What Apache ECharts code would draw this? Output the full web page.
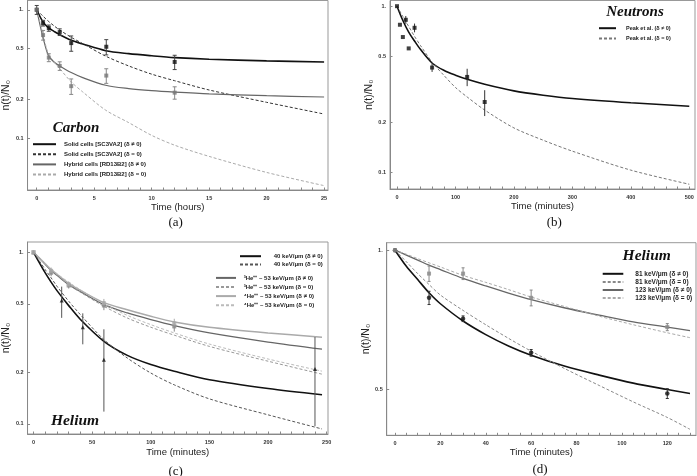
<!DOCTYPE html>
<html><head><meta charset="utf-8">
<script src="https://cdn.jsdelivr.net/npm/echarts@6/dist/echarts.min.js"></script>
<style>html,body{margin:0;padding:0;background:#fff}#c{width:697px;height:476px}</style>
</head><body><div id="c"></div><script>
// ---------- Panel (a) Carbon ----------
const aCurveTime = [0,0.5,1,1.5,2,3,4,6,8,10,12,15,20,25];
const aSolidFit  = [1,0.816,0.725,0.679,0.639,0.578,0.541,0.48,0.455,0.438,0.424,0.412,0.4,0.392];
const aSolidExp  = [1,0.9,0.816,0.75,0.695,0.61,0.545,0.435,0.365,0.315,0.28,0.237,0.19,0.154];
const aHybridFit = [1,0.632,0.442,0.392,0.365,0.324,0.296,0.258,0.243,0.234,0.228,0.221,0.214,0.209];
const aHybridExp = [1,0.67,0.455,0.395,0.348,0.274,0.229,0.165,0.132,0.105,0.088,0.072,0.054,0.0426];
const aDataTime  = [0,0.55,1.05,2,3,6.05,12];
const aSolidData = [1,0.787,0.72,0.67,0.55,0.515,0.392];
const aSolidErr  = [0.08,0.04,0.04,0.04,0.075,0.07,0.05];
const aHybridData= [1,0.635,0.424,0.365,0.254,0.307,0.226];
const aHybridErr = [0,0.055,0.03,0.028,0.035,0.04,0.025];
const aXLabels = [0,5,10,15,20,25];
const aYLabels = [0.1,0.2,0.5,1];
const aNames = ['Solid cells [SC3VA2] (δ ≠ 0)','Solid cells [SC3VA2] (δ = 0)','Hybrid cells [RD13B2] (δ ≠ 0)','Hybrid cells [RD13B2] (δ = 0)'];

// ---------- Panel (b) Neutrons ----------
const bCurveTime = [0,10,20,30,40,60,80,100,120,150,200,250,300,400,500];
const bFit = [1,0.82,0.698,0.617,0.55,0.455,0.411,0.384,0.363,0.339,0.309,0.291,0.278,0.262,0.25];
const bExp = [1,0.867,0.755,0.658,0.581,0.461,0.384,0.324,0.284,0.237,0.185,0.156,0.134,0.103,0.0847];
const bDataTime = [0,5,10,15,20,30,60,120,150];
const bData = [1,0.773,0.652,0.828,0.557,0.741,0.427,0.375,0.265];
const bErr  = [0,0,0,0.045,0,0.045,0.025,0.045,0.047];
const bXLabels = [0,100,200,300,400,500];
const bYLabels = [0.1,0.2,0.5,1];
const bNames = ['Peak et al. (δ ≠ 0)','Peak et al. (δ = 0)'];

// ---------- Panel (c) Helium ----------
const cCurveTime = [0,10,15,20,30,40,60,80,100,120,150,200,246];
const c40Fit  = [1,0.758,0.67,0.598,0.489,0.406,0.303,0.251,0.222,0.203,0.181,0.161,0.148];
const c40Exp  = [1,0.792,0.71,0.634,0.519,0.433,0.31,0.242,0.198,0.169,0.14,0.113,0.0935];
const c3HeFit = [1,0.85,0.782,0.735,0.648,0.59,0.496,0.443,0.405,0.374,0.339,0.3,0.273];
const c3HeExp = [1,0.855,0.789,0.74,0.648,0.585,0.485,0.414,0.366,0.329,0.283,0.232,0.195];
const c4HeFit = [1,0.857,0.793,0.745,0.66,0.6,0.509,0.463,0.424,0.393,0.366,0.339,0.32];
const c4HeExp = [1,0.862,0.8,0.75,0.669,0.605,0.5,0.429,0.379,0.339,0.292,0.239,0.203];
const c40Time = [0,24,42,60,240];
const c40Data = [1,0.523,0.366,0.237,0.209];
const c40Err  = [0,0.108,0.075,0.119,0.112];
const cHeTime = [0,15,30,60,120];
const c3HeData = [1,0.76,0.64,0.49,0.37];
const c4HeData = [1,0.78,0.65,0.505,0.385];
const cHeErr = [0,0.035,0.025,0.03,0.025];
const cXLabels = [0,50,100,150,200,250];
const cYLabels = [0.1,0.2,0.5,1];
const cNames = ['40 keV/μm (δ ≠ 0)','40 keV/μm (δ = 0)','³He⁺⁺ – 53 keV/μm (δ ≠ 0)','³He⁺⁺ – 53 keV/μm (δ = 0)','⁴He⁺⁺ – 53 keV/μm (δ ≠ 0)','⁴He⁺⁺ – 53 keV/μm (δ = 0)'];

// ---------- Panel (d) Helium ----------
const dCurveTime = [0,5,10,15,20,30,40,50,60,75,90,105,120,130];
const d81Fit  = [1,0.923,0.864,0.809,0.766,0.703,0.657,0.621,0.593,0.561,0.537,0.516,0.5,0.49];
const d81Exp  = [1,0.944,0.89,0.843,0.8,0.741,0.69,0.645,0.605,0.554,0.51,0.47,0.435,0.41];
const d123Fit = [1,0.976,0.952,0.928,0.908,0.869,0.837,0.808,0.782,0.75,0.724,0.7,0.682,0.67];
const d123Exp = [1,0.98,0.959,0.939,0.92,0.882,0.852,0.822,0.792,0.755,0.72,0.69,0.663,0.647];
const dDataTime = [0,15,30,60,120];
const d81Data = [1,0.789,0.711,0.6,0.49];
const d81Err  = [0,0.026,0.01,0.01,0.012];
const d123Data = [1,0.89,0.89,0.789,0.682];
const d123Err  = [0,0.034,0.026,0.031,0.012];
const dXLabels = [0,20,40,60,80,100,120];
const dYLabels = [0.5,1];
const dNames = ['81 keV/μm (δ ≠ 0)','81 keV/μm (δ = 0)','123 keV/μm (δ ≠ 0)','123 keV/μm (δ = 0)'];

// ---------- helpers ----------
const SANS = 'Liberation Sans';
const SERIF = 'Liberation Serif';
function pairs(xs, ys){ return xs.map((x,i)=>[x, ys[i]]); }
function errData(xs, ys, es){ return xs.map((x,i)=>[x, ys[i], ys[i]-es[i], ys[i]+es[i]]); }
function tickList(min, max, step){ const t=[]; for(let v=Math.ceil(min/step)*step; v<=max+1e-9; v+=step) t.push(+v.toFixed(6)); return t; }

function xAxis(gi, min, max, labels, minor, gap){
  return {type:'value', gridIndex:gi, min, max, name:'Time ('+(gi===0?'hours':'minutes')+')',
    nameLocation:'middle', nameGap:gap,
    nameTextStyle:{fontFamily:SANS, fontSize:9.5, color:'#222'},
    axisLine:{show:true, onZero:false, lineStyle:{color:'#888', width:1}},
    axisTick:{show:true, inside:true, length:2.5, customValues:tickList(min,max,minor), lineStyle:{color:'#888'}},
    axisLabel:{customValues:labels, fontFamily:SANS, fontSize:5.5, fontWeight:'bold', color:'#333', margin:5},
    splitLine:{show:false}};
}
function yAxis(gi, min, max, labels, gap){
  return {type:'log', logBase:10, gridIndex:gi, min, max, name:'n(t)/N₀',
    nameLocation:'middle', nameGap:gap,
    nameTextStyle:{fontFamily:SANS, fontSize:10.5, color:'#222'},
    axisLine:{show:true, onZero:false, lineStyle:{color:'#888', width:1}},
    axisTick:{show:true, inside:true, length:2.5, customValues:labels, lineStyle:{color:'#888'}},
    axisLabel:{customValues:labels, fontFamily:SANS, fontSize:5.5, fontWeight:'bold', color:'#333', margin:4,
      formatter:v=>{const r=Math.round(v*100)/100; return r===1?'1.':String(r);}},
    splitLine:{show:false}, minorTick:{show:false}};
}
function curve(name, gi, xs, ys, color, width, dashed){
  return {type:'line', name, xAxisIndex:gi, yAxisIndex:gi, data:pairs(xs,ys), symbol:'none',
    smooth:0.3, z:2, silent:true,
    lineStyle:{color, width, type: dashed?[3,2]:'solid'}, itemStyle:{color}};
}
function pts(gi, xs, ys, color, symbol, size){
  return {type:'scatter', xAxisIndex:gi, yAxisIndex:gi, data:pairs(xs,ys), symbol, symbolSize:size,
    itemStyle:{color}, z:4, silent:true};
}
function errs(gi, xs, ys, es, color, cap){
  return {type:'custom', xAxisIndex:gi, yAxisIndex:gi, data:errData(xs,ys,es), silent:true, z:3,
    encode:{x:0, y:1},
    renderItem:(params, api)=>{
      const x=api.value(0), lo=api.value(2), hi=api.value(3);
      if (!(hi-lo>0)) return null;
      const a=api.coord([x,hi]), b=api.coord([x,lo]);
      const ch=[{type:'line', shape:{x1:a[0],y1:a[1],x2:b[0],y2:b[1]}, style:{stroke:color, lineWidth:1}}];
      if (cap) {
        ch.push({type:'line', shape:{x1:a[0]-cap,y1:a[1],x2:a[0]+cap,y2:a[1]}, style:{stroke:color, lineWidth:1}});
        ch.push({type:'line', shape:{x1:b[0]-cap,y1:b[1],x2:b[0]+cap,y2:b[1]}, style:{stroke:color, lineWidth:1}});
      }
      return {type:'group', children:ch};
    }};
}
function legend(names, left, top, iw, gap, pad, fs){
  return {data:names, left, top, orient:'vertical', itemWidth:iw, itemHeight:8, itemGap:gap,
    selectedMode:false, padding:0, itemStyle:{opacity:0, borderWidth:0},
    textStyle:{fontFamily:SANS, fontSize:fs, fontWeight:'bold', color:'#222', padding:[0,0,0,pad]}};
}
function label(text, x, y, size, font, italicBold){
  return {type:'text', x, y, silent:true, style:{text, x:0, y:0, align:'center', verticalAlign:'middle',
    font:(italicBold?'italic bold ':'')+size+'px "'+font+'"', fill:'#111'}};
}

const grids = [
  {left:23, top:0.5, width:305, height:189.5},
  {left:390, top:0.5, width:305, height:188.5},
  {left:26.7, top:242, width:301.3, height:192},
  {left:386.7, top:242.7, width:309.3, height:192.6}
].map(g=>Object.assign(g,{show:true, borderColor:'#999', borderWidth:1, backgroundColor:'transparent'}));

const option = {
  animation:false,
  backgroundColor:'#fff',
  grid:grids,
  xAxis:[
    xAxis(0, -0.8, 25.34, aXLabels, 1, 11),
    xAxis(1, -12, 509.8, bXLabels, 20, 10.5),
    xAxis(2, -5.1, 251.1, cXLabels, 10, 13),
    xAxis(3, -3.66, 132.65, dXLabels, 5, 11.5)
  ],
  yAxis:[
    yAxis(0, 0.0394, 1.181, aYLabels, 10),
    yAxis(1, 0.0793, 1.082, bYLabels, 5),
    yAxis(2, 0.0874, 1.148, cYLabels, 15),
    yAxis(3, 0.398, 1.038, dYLabels, 2.5)
  ],
  legend:[
    legend(aNames, 32, 141, 23, 3.7, 3, 6),
    legend(bNames, 598, 25, 17, 4, 5, 5.5),
    legend(cNames.slice(0,2), 239, 253, 21, 2, 7.7, 6),
    legend(cNames.slice(2), 215, 274.7, 20, 2.7, 2.7, 6),
    legend(dNames, 601.7, 270.3, 20.6, 1.1, 7, 6.5)
  ],
  series:[
    curve(aNames[0], 0, aCurveTime, aSolidFit, '#111', 1.6, false),
    curve(aNames[1], 0, aCurveTime, aSolidExp, '#333', 1, true),
    curve(aNames[2], 0, aCurveTime, aHybridFit, '#666', 1.2, false),
    curve(aNames[3], 0, aCurveTime, aHybridExp, '#aaa', 1, true),
    errs(0, aDataTime, aSolidData, aSolidErr, '#444', 2),
    errs(0, aDataTime, aHybridData, aHybridErr, '#888', 2),
    pts(0, aDataTime, aSolidData, '#111', 'rect', 4),
    pts(0, aDataTime, aHybridData, '#777', 'rect', 4),

    curve(bNames[0], 1, bCurveTime, bFit, '#111', 1.6, false),
    curve(bNames[1], 1, bCurveTime, bExp, '#777', 1, true),
    errs(1, bDataTime, bData, bErr, '#333', 0),
    pts(1, bDataTime, bData, '#111', 'rect', 4),

    curve(cNames[0], 2, cCurveTime, c40Fit, '#111', 1.6, false),
    curve(cNames[1], 2, cCurveTime, c40Exp, '#555', 1, true),
    curve(cNames[2], 2, cCurveTime, c3HeFit, '#666', 1.3, false),
    curve(cNames[3], 2, cCurveTime, c3HeExp, '#999', 1, true),
    curve(cNames[4], 2, cCurveTime, c4HeFit, '#aaa', 1.5, false),
    curve(cNames[5], 2, cCurveTime, c4HeExp, '#bbb', 1, true),
    errs(2, c40Time, c40Data, c40Err, '#555', 0),
    errs(2, cHeTime, c3HeData, cHeErr, '#888', 0),
    errs(2, cHeTime, c4HeData, cHeErr, '#aaa', 0),
    pts(2, c40Time, c40Data, '#111', 'triangle', 4),
    pts(2, cHeTime, c3HeData, '#888', 'rect', 4),
    pts(2, cHeTime, c4HeData, '#aaa', 'rect', 4),

    curve(dNames[0], 3, dCurveTime, d81Fit, '#111', 1.6, false),
    curve(dNames[1], 3, dCurveTime, d81Exp, '#888', 1, true),
    curve(dNames[2], 3, dCurveTime, d123Fit, '#666', 1.3, false),
    curve(dNames[3], 3, dCurveTime, d123Exp, '#aaa', 1, true),
    errs(3, dDataTime, d81Data, d81Err, '#333', 1.5),
    errs(3, dDataTime, d123Data, d123Err, '#888', 1.5),
    pts(3, dDataTime, d81Data, '#111', 'circle', 4.5),
    pts(3, dDataTime, d123Data, '#888', 'rect', 4)
  ],
  graphic:[
    label('Carbon', 76, 127.7, 15, SERIF, true),
    label('Neutrons', 635, 11.7, 15, SERIF, true),
    label('Helium', 75, 420.7, 15.5, SERIF, true),
    label('Helium', 646.7, 256, 15.5, SERIF, true),
    label('(a)', 175.7, 222.7, 13, SERIF, false),
    label('(b)', 554.3, 222.7, 13, SERIF, false),
    label('(c)', 175.7, 471.3, 13, SERIF, false),
    label('(d)', 540, 470, 13, SERIF, false)
  ]
};
const chart = echarts.init(document.getElementById('c'), null, {renderer:'canvas'});
chart.setOption(option);
</script></body></html>
